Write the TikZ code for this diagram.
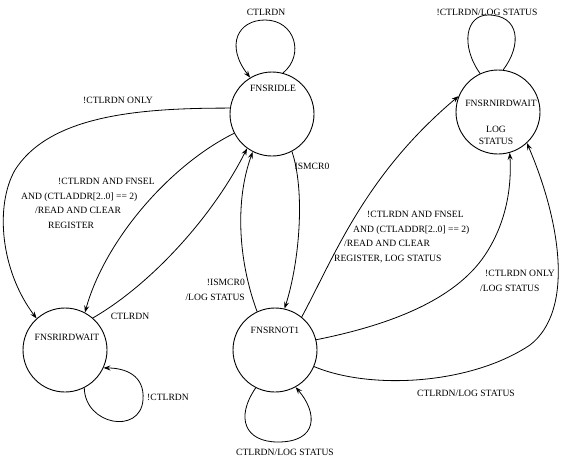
\documentclass[tikz,border=0pt]{standalone}
\usepackage{fontspec}
\setmainfont{Liberation Serif}
\usepackage{tikz}
\usetikzlibrary{automata, positioning, arrows.meta}
\tikzset{%
  every state/.style={draw, line width=0.9pt, minimum size=84pt, inner sep=0pt}, % the four circles
  every edge/.style={%
    draw, ->, line width=0.8pt
  }
}

\begin{document}
\begin{tikzpicture}[x=1pt, y=-1pt, >={Stealth[length=7pt, width=5pt, inset=2.5pt]},
  font=\fontsize{9.6}{14.5}\selectfont,
  lbl/.style={inner sep=0pt, align=center},
  lblleft/.style={inner sep=0pt, align=left},
  lblright/.style={inner sep=0pt, align=right}]

\useasboundingbox (0,0) rectangle (564,458);

\node[state] (idle) at (272,114) {};
\node[state] (irdwait) at (65,350) {};
\node[state] (not1) at (275,350) {};
\node[state] (nirdwait) at (498,112) {};

\node[lbl] (idlename) at (273,88) {FNSRIDLE};
\node[lbl] (irdwaitname) at (67,337) {FNSRIRDWAIT};
\node[lbl] (not1name) at (275,330) {FNSRNOT1};
\node[lbl] (nirdwaitname) at (501,103) {FNSRNIRDWAIT};
\node[lbl, font=\fontsize{9.6}{12}\selectfont] (nirdwaitlog) at (496,135) {LOG\\STATUS};

% self loops
\draw[->, line width=0.8pt] (idle.75) .. controls (305,55) and (295,20) .. (265,20)
  .. controls (238,20) and (225,45) .. (idle.121);
\draw[->, line width=0.8pt] (irdwait.297) .. controls (85,425) and (140,435) .. (143,400)
  .. controls (145,375) and (125,368) .. (irdwait.335);
\draw[->, line width=0.8pt] (not1.243) .. controls (235,418) and (245,442) .. (278,442)
  .. controls (318,442) and (318,413) .. (not1.299);
\draw[line width=0.8pt] (nirdwait.115) .. controls (460,45) and (466,15) .. (488,15)
  .. controls (520,15) and (522,45) .. (nirdwait.83);

% transitions
\draw[->, line width=0.8pt] (idle.172) .. controls (140,108) and (50,115) .. (15,170)
  .. controls (-5,205) and (0,270) .. (irdwait.132);
\draw[->, line width=0.8pt] (idle.207) .. controls (170,165) and (105,240) .. (irdwait.62);
\draw[->, line width=0.8pt] (irdwait.49) .. controls (150,285) and (212,218) .. (idle.234);
\draw[->, line width=0.8pt] (not1.115) .. controls (238,260) and (235,200) .. (idle.243);
\draw[->, line width=0.8pt] (idle.298) .. controls (305,190) and (300,260) .. (not1.77);
\draw[->, line width=0.8pt] (not1.51) .. controls (335,255) and (365,175) .. (nirdwait.158);
\draw[->, line width=0.8pt] (not1.14) .. controls (390,325) and (455,300) .. (485,255)
  .. controls (505,225) and (512,190) .. (nirdwait.286);
\draw[->, line width=0.8pt] (not1.337) .. controls (370,390) and (470,385) .. (530,345)
  .. controls (575,310) and (560,220) .. (nirdwait.313);

% labels
\node[lbl] (l1) at (266,12) {CTLRDN};
\node[lbl] (l2) at (487,12) {!CTLRDN/LOG STATUS};
\node[lbl] (l3) at (118,100) {!CTLRDN ONLY};
\node[lblleft, anchor=north west] (l4) at (21,178) {\hspace*{37pt}!CTLRDN AND FNSEL\\
  AND (CTLADDR[2..0] == 2)\\\hspace*{14pt}/READ AND CLEAR\\\hspace*{27pt}REGISTER};
\node[lbl] (l5) at (130,316) {CTLRDN};
\node[lbl] (l6) at (168,397) {!CTLRDN};
\node[lbl] (l7) at (312,166) {ISMCR0};
\node[lblright, anchor=east] (l8) at (245,290) {!ISMCR0\\/LOG STATUS};
\node[lblleft, anchor=north west] (l9) at (334,211) {\hspace*{33pt}!CTLRDN AND FNSEL\\
  \hspace*{19pt}AND (CTLADDR[2..0] == 2)\\\hspace*{10pt}/READ AND CLEAR\\REGISTER, LOG STATUS};
\node[lblleft, anchor=west] (l10) at (480,281) {\hspace*{5pt}!CTLRDN ONLY\\/LOG STATUS};
\node[lbl] (l11) at (466,393) {CTLRDN/LOG STATUS};
\node[lbl] (l12) at (285,452) {CTLRDN/LOG STATUS};

\end{tikzpicture}
\end{document}
